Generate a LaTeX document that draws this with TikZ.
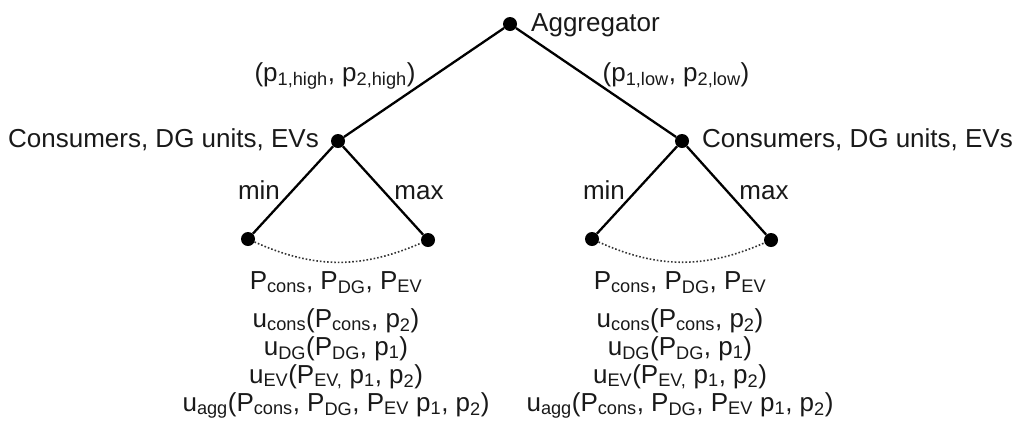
\documentclass[tikz,border=0pt]{standalone}
\usepackage{fontspec}
\setmainfont{Liberation Sans}
\newcommand\sbs[1]{\textsubscript{#1}}
\begin{document}
\begin{tikzpicture}[x=1pt,y=-1pt,
  dot/.style={circle,fill=black,inner sep=0pt,minimum size=14pt},
  edge/.style={line width=2.3pt,black},
  arc/.style={line width=1.6pt,dash pattern=on 1.6pt off 2pt,black!80},
  txt/.style={font=\fontsize{26}{30}\selectfont,inner sep=0pt,text=black!90}]
\useasboundingbox (0,0) rectangle (1019,424);
% dots
\node[dot] (agg) at (510,24) {};
\node[dot] (L) at (338,141) {};
\node[dot] (R) at (682,141) {};
\node[dot] (L1) at (248,239) {};
\node[dot] (L2) at (428,240) {};
\node[dot] (R1) at (592,239) {};
\node[dot] (R2) at (771,240) {};
% edges
\draw[edge] (agg) -- (L);
\draw[edge] (agg) -- (R);
\draw[edge] (L) -- (L1);
\draw[edge] (L) -- (L2);
\draw[edge] (R) -- (R1);
\draw[edge] (R) -- (R2);
\draw[arc] (L1) to[bend right=24] (L2);
\draw[arc] (R1) to[bend right=24] (R2);
% labels
\node[txt,anchor=base west] (taggr) at (531,31) {Aggregator};
\node[txt,anchor=base east] (tL) at (319,147) {Consumers, DG units, EVs};
\node[txt,anchor=base west] (tR) at (702,147) {Consumers, DG units, EVs};
\node[txt,anchor=base] (phigh) at (335,81) {(p\sbs{1,high}, p\sbs{2,high})};
\node[txt,anchor=base] (plow) at (676,81) {(p\sbs{1,low}, p\sbs{2,low})};
\node[txt,anchor=base] (minL) at (259,199) {min};
\node[txt,anchor=base] (maxL) at (419,199) {max};
\node[txt,anchor=base] (minR) at (604,199) {min};
\node[txt,anchor=base] (maxR) at (764,199) {max};
% bottom texts
\foreach \cx/\nm in {336/l,680/r}{
  \node[txt,anchor=base] (P\nm) at (\cx,289) {P\sbs{cons}, P\sbs{DG}, P\sbs{EV}};
  \node[txt,anchor=base] (uc\nm) at (\cx,327) {u\sbs{cons}(P\sbs{cons}, p\sbs{2})};
  \node[txt,anchor=base] (ud\nm) at (\cx,355) {u\sbs{DG}(P\sbs{DG}, p\sbs{1})};
  \node[txt,anchor=base] (ue\nm) at (\cx,383) {u\sbs{EV}(P\sbs{EV,} p\sbs{1}, p\sbs{2})};
  \node[txt,anchor=base] (ua\nm) at (\cx,411) {u\sbs{agg}(P\sbs{cons}, P\sbs{DG}, P\sbs{EV} p\sbs{1}, p\sbs{2})};
}
\end{tikzpicture}
\end{document}
